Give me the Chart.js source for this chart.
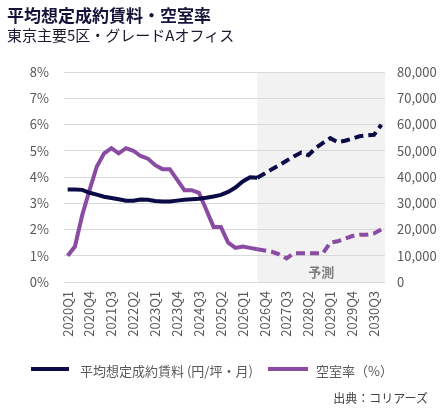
<!DOCTYPE html>
<html><head><meta charset="utf-8">
<script src="https://cdn.jsdelivr.net/npm/chart.js@4.4.0/dist/chart.umd.min.js"></script>
<style>
html,body{margin:0;padding:0;background:#fff;}
body{width:448px;height:415px;position:relative;overflow:hidden;font-family:"Noto Sans CJK JP","Noto Sans",sans-serif;}
#c{position:absolute;left:0;top:0;}
.t{position:absolute;white-space:nowrap;}
#title{left:7px;top:2px;font-size:17px;font-weight:bold;color:#14143a;}
#sub{left:7px;top:24px;font-size:15px;color:#1a1a2e;}
#src{right:20px;top:389px;font-size:12px;color:#404040;}
.lg{position:absolute;top:361px;font-size:13px;color:#595959;}
.sw{position:absolute;height:4px;top:367px;}
</style></head>
<body>
<canvas id="c" width="448" height="415"></canvas>
<div class="t" id="title">平均想定成約賃料・空室率</div>
<div class="t" id="sub">東京主要5区・グレードAオフィス</div>
<div class="sw" style="left:31px;width:38px;background:#0b0c47"></div>
<div class="t lg" style="left:80px">平均想定成約賃料 (円/坪・月)</div>
<div class="sw" style="left:268px;width:40px;background:#8a4ba3"></div>
<div class="t lg" style="left:316px">空室率（%）</div>
<div class="t" id="src">出典：コリアーズ</div>
<script>
const quarters = ["2020Q1","2020Q2","2020Q3","2020Q4","2021Q1","2021Q2","2021Q3","2021Q4","2022Q1","2022Q2","2022Q3","2022Q4","2023Q1","2023Q2","2023Q3","2023Q4","2024Q1","2024Q2","2024Q3","2024Q4","2025Q1","2025Q2","2025Q3","2025Q4","2026Q1","2026Q2","2026Q3","2026Q4","2027Q1","2027Q2","2027Q3","2027Q4","2028Q1","2028Q2","2028Q3","2028Q4","2029Q1","2029Q2","2029Q3","2029Q4","2030Q1","2030Q2","2030Q3","2030Q4"];
const rent = [35200,35200,35100,34000,33300,32500,32000,31500,31000,31000,31400,31300,30900,30700,30700,31000,31300,31500,31700,32100,32600,33200,34300,36000,38300,39900,39700,41300,43000,44500,46200,47800,49300,48300,51000,53000,54800,53300,53800,54600,55500,55900,56100,59900];
const vacancy = [1.0,1.35,2.55,3.5,4.4,4.9,5.1,4.9,5.1,5.0,4.8,4.7,4.45,4.3,4.3,3.9,3.5,3.5,3.4,2.75,2.1,2.1,1.5,1.3,1.35,1.3,1.25,1.2,1.15,1.05,0.9,1.1,1.1,1.1,1.1,1.1,1.5,1.55,1.65,1.75,1.8,1.8,1.85,2.0];
const leftTicks = [0,1,2,3,4,5,6,7,8];
const rightTicks = [0,10000,20000,30000,40000,50000,60000,70000,80000];
const forecastStart = 26; // index of last actual quarter (2026Q3)
const forecastLabel = "予測";
const labelEvery = 3;

const NAVY = "#0b0c47", PURPLE = "#8a4ba3";
const dashSeg = { borderDash: ctx => ctx.p0DataIndex >= forecastStart ? [9,5] : undefined };

const shade = {
  id: 'shade',
  beforeDraw(chart) {
    const {ctx, chartArea, scales} = chart;
    const x0 = scales.x.getPixelForValue(forecastStart);
    ctx.save();
    ctx.fillStyle = "#f2f2f2";
    ctx.fillRect(x0, chartArea.top, chartArea.right - x0, chartArea.bottom - chartArea.top);
    ctx.restore();
  },
  afterDatasetsDraw(chart) {
    const {ctx, chartArea, scales} = chart;
    const x0 = scales.x.getPixelForValue(forecastStart);
    ctx.save();
    ctx.fillStyle = "#7f7f7f";
    ctx.font = 'bold 13px "Noto Sans CJK JP"';
    ctx.textAlign = "center";
    ctx.textBaseline = "middle";
    ctx.fillText(forecastLabel, (x0 + chartArea.right) / 2, chartArea.bottom - 10);
    ctx.restore();
  }
};

Chart.defaults.font.family = '"Noto Sans CJK JP","Noto Sans",sans-serif';
new Chart(document.getElementById('c'), {
  type: 'line',
  data: {
    labels: quarters,
    datasets: [
      { label: '平均想定成約賃料 (円/坪・月)', data: rent, yAxisID: 'y2', borderColor: NAVY, borderWidth: 4, pointRadius: 0, tension: 0, segment: dashSeg, order: 1 },
      { label: '空室率（%）', data: vacancy, yAxisID: 'y', borderColor: PURPLE, borderWidth: 4, pointRadius: 0, tension: 0, segment: dashSeg, order: 2 }
    ]
  },
  options: {
    responsive: false, animation: false, devicePixelRatio: 1,
    layout: { padding: { top: 72, bottom: 0, left: 0, right: 0 } },
    plugins: { legend: { display: false }, tooltip: { enabled: false } },
    scales: {
      x: {
        offset: true,
        grid: { display: false, drawTicks: false },
        border: { display: false },
        ticks: {
          autoSkip: false, minRotation: 90, maxRotation: 90, padding: 9,
          color: '#595959', font: { size: 13 },
          callback: function(v, i) { return i % labelEvery === 0 ? this.getLabelForValue(v) : ''; }
        },
        afterFit: s => { s.height = 133; }
      },
      y: {
        position: 'left', min: 0, max: 8,
        afterBuildTicks: s => { s.ticks = leftTicks.map(v => ({value: v})); },
        grid: { color: '#d9d9d9', drawTicks: false, lineWidth: 1 },
        border: { display: false },
        ticks: { color: '#595959', font: { size: 13 }, padding: 15, callback: v => v + '%' },
        afterFit: s => { s.width = 64; }
      },
      y2: {
        position: 'right', min: 0, max: 80000,
        afterBuildTicks: s => { s.ticks = rightTicks.map(v => ({value: v})); },
        grid: { display: false, drawTicks: false },
        border: { display: false },
        ticks: { color: '#595959', font: { size: 13 }, padding: 12, callback: v => v.toLocaleString('en-US') },
        afterFit: s => { s.width = 63; }
      }
    }
  },
  plugins: [shade]
});
</script>
</body></html>
